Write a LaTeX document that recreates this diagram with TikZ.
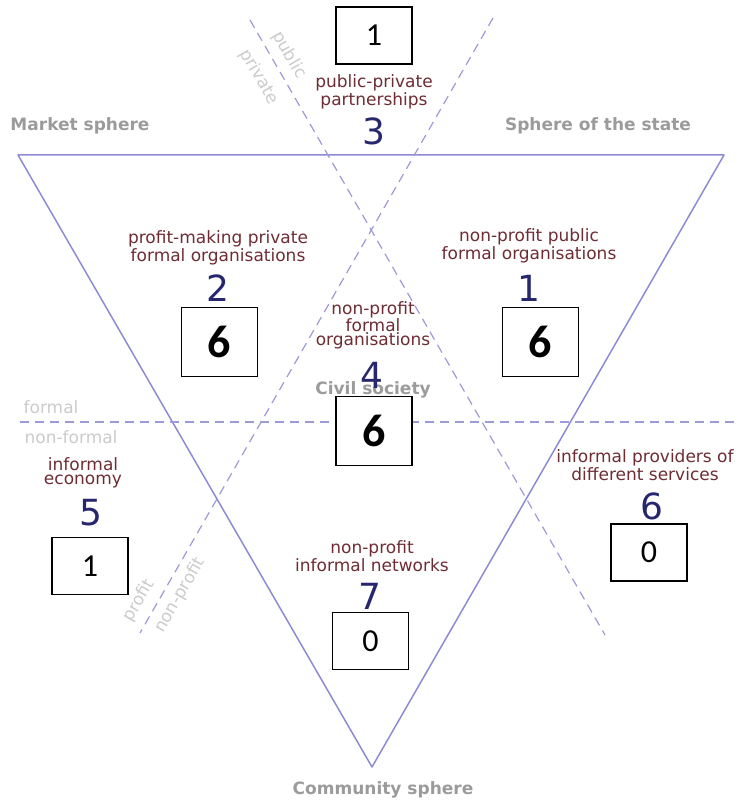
\documentclass[tikz,border=0pt]{standalone}
\usepackage{fontspec}
\setmainfont{DejaVu Sans}
\newfontfamily\countfont{Carlito}
\usetikzlibrary{positioning}
\definecolor{spherered}{HTML}{6E2C33}
\definecolor{spherenavy}{HTML}{27276E}
\definecolor{sphereline}{HTML}{8E8BD6}
\definecolor{spheredash}{HTML}{9C9AD8}
\definecolor{spheregray}{HTML}{9B9B9B}
\definecolor{dividegray}{HTML}{CBCBCB}

\begin{document}
\begin{tikzpicture}[x=1pt, y=-1pt,
  sector/.style={text=spherered, align=center, inner sep=0pt, font=\fontsize{17}{13.5}\selectfont},
  sectno/.style={text=spherenavy, inner sep=0pt, font=\fontsize{36}{36}\selectfont},
  tally/.style={draw=black, fill=white, line width=1.1pt, minimum width=76pt, minimum height=57pt, inner sep=0pt, font=\countfont\fontsize{32}{32}\selectfont},
  bigtally/.style={tally, minimum height=69pt, font=\countfont\bfseries\fontsize{46}{46}\selectfont},
  sphere/.style={text=spheregray, inner sep=0pt, font=\bfseries\fontsize{17}{17}\selectfont},
  divide/.style={text=dividegray, inner sep=0pt, font=\fontsize{17}{17}\selectfont},
  border/.style={sphereline, line width=1.5pt, line join=round},
  split/.style={spheredash, line width=1.2pt, dash pattern=on 9pt off 6pt}
]
  \useasboundingbox (0,0) rectangle (741,805);

  % triangle and dividers
  \coordinate (market) at (18,155);
  \coordinate (state) at (724,155);
  \coordinate (community) at (372,767);
  \draw[border] (market) -- (state) -- (community) -- cycle;

  \coordinate (pubtop) at (250,20);
  \coordinate (pubend) at (605,635);
  \coordinate (proftop) at (493,18);
  \coordinate (profend) at (140,633);
  \coordinate (formleft) at (20,422);
  \coordinate (formright) at (737,422);
  \draw[split] (pubtop) -- (pubend);
  \draw[split] (proftop) -- (profend);
  \draw[split] (formleft) -- (formright);

  \node[divide, rotate=-60] (public) at (289,55) {public};
  \node[divide, rotate=-60] (private) at (259,77) {private};
  \node[divide] (formal) at (51,407) {formal};
  \node[divide] (nonformal) at (71,437) {non-formal};
  \node[divide, rotate=60] (profit) at (139,601) {profit};
  \node[divide, rotate=60] (nonprofit) at (180,595) {non-profit};

  % spheres
  \node[sphere] (marketlbl) at (80,126) {Market sphere};
  \node[sphere] (statelbl) at (598,126) {Sphere of the state};
  \node[sphere] (communitylbl) at (383,790) {Community sphere};
  \node[sphere] (civil) at (373,390) {Civil society};

  % sectors
  \node[sector] (ppp) at (374,92) {public-private\\partnerships};
  \node[sectno] (n3) at (374,131) {3};
  \node[sector] (privform) at (218,248) {profit-making private\\formal organisations};
  \node[sectno] (n2) at (218,288) {2};
  \node[sector] (pubform) at (529,246) {non-profit public\\formal organisations};
  \node[sectno] (n1) at (529,288) {1};
  \node[sector] (npform) at (373,325) {non-profit\\formal\\organisations};
  \node[sectno] (n4) at (372,375) {4};
  \node[sector] (infecon) at (83,473) {informal\\economy};
  \node[sectno] (n5) at (91,513) {5};
  \node[sector] (infprov) at (645,465) {informal providers of\\different services};
  \node[sectno] (n6) at (652,506) {6};
  \node[sector] (infnet) at (372,556) {non-profit\\informal networks};
  \node[sectno] (n7) at (370,596) {7};

  % counts
  \node[tally] (c3) at (374,35.5) {1};
  \node[bigtally] (c2) at (219.5,342) {6};
  \node[bigtally] (c1) at (540.5,342) {6};
  \node[bigtally] (c4) at (374,431) {6};
  \node[tally] (c5) at (90,566) {1};
  \node[tally] (c6) at (649,552.5) {0};
  \node[tally] (c7) at (370.5,641) {0};
\end{tikzpicture}
\end{document}
